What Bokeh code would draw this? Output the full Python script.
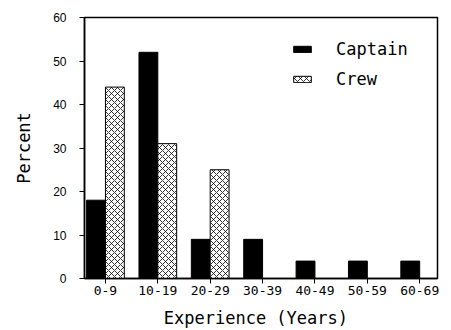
from bokeh.plotting import figure
from bokeh.models import Legend, LegendItem, FixedTicker
from bokeh.embed import file_html
from bokeh.resources import INLINE

categories = ["0-9", "10-19", "20-29", "30-39", "40-49", "50-59", "60-69"]
captain = [18, 52, 9, 9, 4, 4, 4]
crew = [44, 31, 25, 0, 0, 0, 0]
y_ticks = [0, 10, 20, 30, 40, 50, 60]

idx = list(range(len(categories)))
bar_w = 0.36
cap_x = [i - bar_w / 2 for i in idx]
crew_x = [i + bar_w / 2 for i in idx]
crew_idx = [i for i, v in zip(crew_x, crew) if v > 0]
crew_vals = [v for v in crew if v > 0]

p = figure(width=443, height=330, output_backend="svg", toolbar_location=None,
           x_range=(-0.40, 6.34), y_range=(0, 60),
           min_border_left=84, min_border_top=17, min_border_right=6, min_border_bottom=10)
p.background_fill_color = "white"
p.border_fill_color = "white"
p.outline_line_color = "black"
p.outline_line_width = 1.5
p.xgrid.visible = False
p.ygrid.visible = False

r_cap = p.vbar(x=cap_x, top=captain, bottom=0, width=bar_w,
               fill_color="black", line_color="black", line_width=1)
r_crew = p.vbar(x=crew_idx, top=crew_vals, bottom=0, width=bar_w,
                fill_color="white", line_color="black", line_width=1,
                hatch_pattern="diagonal_cross", hatch_color="black",
                hatch_scale=6, hatch_weight=0.8)

p.xaxis.ticker = FixedTicker(ticks=idx)
p.xaxis.major_label_overrides = {i: c for i, c in zip(idx, categories)}
p.yaxis.ticker = FixedTicker(ticks=y_ticks)

for ax in (p.xaxis[0], p.yaxis[0]):
    ax.axis_line_color = "black"
    ax.axis_line_width = 1.5
    ax.major_tick_line_color = "black"
    ax.major_tick_in = 0
    ax.major_tick_out = 5
    ax.minor_tick_line_color = None
    ax.major_label_text_color = "black"
    ax.axis_label_text_color = "black"
    ax.axis_label_text_font_style = "normal"
    ax.axis_label_text_font = "DejaVu Sans Mono"
    ax.axis_label_text_font_size = "17px"

p.xaxis.major_label_text_font = "DejaVu Sans Mono"
p.xaxis.major_label_text_font_size = "13px"
p.xaxis.major_label_standoff = 2
p.xaxis.axis_label = "Experience  (Years)"
p.xaxis.axis_label_standoff = 10

p.yaxis.major_label_text_font = "Liberation Sans"
p.yaxis.major_label_text_font_size = "12px"
p.yaxis.major_label_standoff = 13
p.yaxis.axis_label = "Percent"
p.yaxis.axis_label_standoff = 16

legend = Legend(items=[LegendItem(label="Captain", renderers=[r_cap]),
                       LegendItem(label="Crew", renderers=[r_crew])],
                location=(207, 189), padding=0, margin=0, spacing=10,
                glyph_width=22, glyph_height=8, label_height=20,
                label_standoff=23, border_line_color=None,
                background_fill_alpha=0,
                label_text_font="DejaVu Sans Mono", label_text_font_size="17px",
                label_text_color="black")
p.add_layout(legend)

open("out.html", "w").write(file_html(p, INLINE))
